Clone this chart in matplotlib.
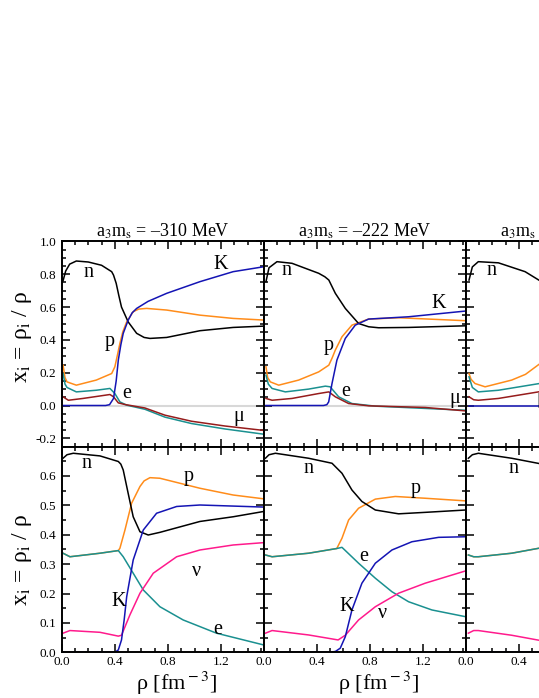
#!/usr/bin/env python3
# -*- coding: utf-8 -*-
"""
Particle fractions x_i = rho_i / rho vs density, three a3ms values
(top: neutrino-free, bottom: with trapped neutrinos)
"""

#%% 1. Imports
import matplotlib
matplotlib.use('Agg')
import matplotlib.pyplot as plt
from matplotlib.ticker import MultipleLocator, FixedLocator, FixedFormatter

plt.rcParams['font.family'] = ['Liberation Serif', 'DejaVu Serif']
plt.rcParams['mathtext.fontset'] = 'stix'
plt.rcParams['axes.unicode_minus'] = False

#%% 2. Data
titles = ['a$_{\\rm 3}$m$_{\\rm s}$ = \u2013310 MeV',
          'a$_{\\rm 3}$m$_{\\rm s}$ = \u2013222 MeV',
          'a$_{\\rm 3}$m$_{\\rm s}$ = \u2013134 MeV']

# ---- top row, column 1
n_t1_x = [0.01, 0.03, 0.06, 0.11, 0.2, 0.3, 0.376, 0.39, 0.41, 0.43, 0.45, 0.5, 0.564, 0.62, 0.664, 0.79, 1.04, 1.29, 1.52]
n_t1_y = [0.76, 0.82, 0.862, 0.881, 0.875, 0.855, 0.816, 0.795, 0.745, 0.67, 0.60, 0.51, 0.44, 0.415, 0.409, 0.415, 0.456, 0.476, 0.484]
K_t1_x = [0.01, 0.33, 0.36, 0.39, 0.41, 0.426, 0.445, 0.463, 0.50, 0.53, 0.564, 0.65, 0.79, 1.04, 1.29, 1.52]
K_t1_y = [0.0, 0.0, 0.005, 0.043, 0.15, 0.277, 0.37, 0.44, 0.52, 0.565, 0.592, 0.635, 0.684, 0.755, 0.816, 0.846]
p_t1_x = [0.01, 0.025, 0.04, 0.11, 0.26, 0.376, 0.40, 0.42, 0.438, 0.46, 0.489, 0.538, 0.58, 0.639, 0.79, 1.04, 1.29, 1.52]
p_t1_y = [0.246, 0.17, 0.144, 0.124, 0.155, 0.195, 0.236, 0.31, 0.379, 0.45, 0.51, 0.572, 0.588, 0.592, 0.582, 0.551, 0.531, 0.521]
e_t1_x = [0.01, 0.025, 0.04, 0.11, 0.26, 0.363, 0.40, 0.438, 0.489, 0.626, 0.777, 0.977, 1.228, 1.52]
e_t1_y = [0.195, 0.13, 0.11, 0.083, 0.093, 0.104, 0.073, 0.022, 0.002, -0.023, -0.071, -0.11, -0.143, -0.175]
mu_t1_x = [0.01, 0.05, 0.16, 0.363, 0.39, 0.426, 0.476, 0.626, 0.777, 0.977, 1.228, 1.52]
mu_t1_y = [0.053, 0.032, 0.043, 0.067, 0.053, 0.016, 0.006, -0.015, -0.059, -0.096, -0.125, -0.152]

# ---- top row, column 2
n_t2_x = [0.017, 0.04, 0.1, 0.213, 0.414, 0.46, 0.49, 0.539, 0.614, 0.714, 0.79, 0.865, 1.09, 1.52]
n_t2_y = [0.755, 0.84, 0.877, 0.867, 0.806, 0.785, 0.765, 0.684, 0.592, 0.50, 0.48, 0.474, 0.476, 0.486]
K_t2_x = [0.017, 0.45, 0.475, 0.489, 0.514, 0.551, 0.614, 0.689, 0.789, 1.09, 1.52]
K_t2_y = [0.0, 0.0, 0.005, 0.022, 0.134, 0.277, 0.409, 0.49, 0.527, 0.541, 0.576]
p_t2_x = [0.017, 0.03, 0.05, 0.113, 0.263, 0.414, 0.49, 0.515, 0.539, 0.589, 0.664, 0.789, 1.015, 1.52]
p_t2_y = [0.236, 0.17, 0.144, 0.124, 0.155, 0.205, 0.246, 0.29, 0.338, 0.419, 0.49, 0.527, 0.535, 0.517]
e_t2_x = [0.017, 0.035, 0.063, 0.163, 0.338, 0.464, 0.5, 0.564, 0.664, 0.84, 1.52]
e_t2_y = [0.185, 0.13, 0.104, 0.083, 0.10, 0.118, 0.114, 0.053, 0.012, -0.004, -0.029]
mu_t2_x = [0.017, 0.063, 0.213, 0.414, 0.49, 0.539, 0.639, 0.79, 1.215, 1.52]
mu_t2_y = [0.043, 0.032, 0.043, 0.073, 0.083, 0.053, 0.012, -0.002, -0.012, -0.033]

# ---- top row, column 3 (only the start is visible)
n_t3_x = [0.025, 0.05, 0.095, 0.246, 0.447, 0.6]
n_t3_y = [0.765, 0.845, 0.877, 0.87, 0.816, 0.74]
K_t3_x = [0.025, 0.6]
K_t3_y = [0.0, 0.0]
p_t3_x = [0.025, 0.04, 0.07, 0.146, 0.346, 0.45, 0.6]
p_t3_y = [0.195, 0.16, 0.134, 0.114, 0.155, 0.19, 0.28]
e_t3_x = [0.025, 0.05, 0.095, 0.246, 0.6]
e_t3_y = [0.175, 0.11, 0.083, 0.093, 0.14]
mu_t3_x = [0.025, 0.06, 0.095, 0.246, 0.6]
mu_t3_y = [0.053, 0.035, 0.032, 0.043, 0.09]

# ---- bottom row, column 1
n_b1_x = [0.01, 0.04, 0.087, 0.288, 0.426, 0.445, 0.463, 0.50, 0.538, 0.589, 0.651, 0.739, 1.04, 1.29, 1.52]
n_b1_y = [0.66, 0.672, 0.677, 0.668, 0.649, 0.64, 0.62, 0.541, 0.461, 0.41, 0.399, 0.408, 0.445, 0.461, 0.479]
K_b1_x = [0.01, 0.40, 0.426, 0.45, 0.47, 0.489, 0.538, 0.614, 0.714, 0.865, 1.04, 1.52]
K_b1_y = [0.0, 0.0, 0.008, 0.042, 0.11, 0.189, 0.314, 0.416, 0.473, 0.496, 0.501, 0.494]
p_b1_x = [0.01, 0.062, 0.288, 0.426, 0.438, 0.476, 0.526, 0.589, 0.62, 0.664, 0.739, 1.04, 1.29, 1.52]
p_b1_y = [0.337, 0.325, 0.337, 0.346, 0.354, 0.416, 0.507, 0.564, 0.583, 0.594, 0.592, 0.558, 0.535, 0.522]
e_b1_x = [0.01, 0.062, 0.288, 0.426, 0.463, 0.538, 0.614, 0.739, 0.914, 1.165, 1.52]
e_b1_y = [0.337, 0.325, 0.337, 0.346, 0.325, 0.269, 0.212, 0.155, 0.11, 0.065, 0.025]
nu_b1_x = [0.01, 0.062, 0.288, 0.426, 0.45, 0.513, 0.589, 0.689, 0.865, 1.04, 1.29, 1.52]
nu_b1_y = [0.065, 0.074, 0.068, 0.055, 0.058, 0.127, 0.201, 0.269, 0.325, 0.348, 0.365, 0.373]

# ---- bottom row, column 2
n_b2_x = [0.013, 0.04, 0.088, 0.338, 0.514, 0.589, 0.664, 0.739, 0.84, 1.015, 1.215, 1.52]
n_b2_y = [0.66, 0.672, 0.677, 0.66, 0.643, 0.609, 0.552, 0.513, 0.484, 0.471, 0.476, 0.484]
K_b2_x = [0.013, 0.50, 0.54, 0.576, 0.614, 0.664, 0.739, 0.84, 0.965, 1.115, 1.316, 1.52]
K_b2_y = [0.0, 0.0, 0.003, 0.014, 0.053, 0.144, 0.235, 0.303, 0.348, 0.376, 0.391, 0.393]
p_b2_x = [0.013, 0.063, 0.338, 0.55, 0.589, 0.639, 0.714, 0.84, 0.99, 1.215, 1.52]
p_b2_y = [0.331, 0.325, 0.337, 0.353, 0.388, 0.45, 0.49, 0.521, 0.53, 0.524, 0.515]
e_b2_x = [0.013, 0.063, 0.338, 0.55, 0.589, 0.714, 0.84, 0.965, 1.09, 1.266, 1.52]
e_b2_y = [0.331, 0.325, 0.337, 0.353, 0.357, 0.303, 0.252, 0.206, 0.172, 0.144, 0.121]
nu_b2_x = [0.013, 0.063, 0.338, 0.56, 0.614, 0.714, 0.84, 1.015, 1.215, 1.52]
nu_b2_y = [0.065, 0.074, 0.059, 0.042, 0.058, 0.11, 0.155, 0.201, 0.235, 0.277]

# ---- bottom row, column 3
n_b3_x = [0.02, 0.05, 0.095, 0.346, 0.6]
n_b3_y = [0.66, 0.672, 0.677, 0.66, 0.638]
K_b3_x = [0.02, 0.6]
K_b3_y = [0.0, 0.0]
p_b3_x = [0.02, 0.06, 0.095, 0.346, 0.6]
p_b3_y = [0.331, 0.325, 0.325, 0.337, 0.358]
e_b3_x = [0.02, 0.06, 0.095, 0.346, 0.6]
e_b3_y = [0.331, 0.325, 0.325, 0.337, 0.358]
nu_b3_x = [0.02, 0.06, 0.095, 0.346, 0.6]
nu_b3_y = [0.065, 0.074, 0.074, 0.058, 0.037]

# curve labels (text, x, y) per panel
lab_t1 = [('n', 0.2, 0.81), ('K', 1.2, 0.857), ('p', 0.36, 0.39), ('e', 0.49, 0.073), ('\u03bc', 1.33, -0.07)]
lab_t2 = [('n', 0.175, 0.826), ('K', 1.316, 0.623), ('p', 0.489, 0.368), ('e', 0.614, 0.083), ('\u03bc', 1.44, 0.043)]
lab_t3 = [('n', 0.195, 0.822), ('\u03bc', 0.57, 0.04)]
lab_b1 = [('n', 0.188, 0.643), ('p', 0.952, 0.598), ('\u03bd', 1.015, 0.274), ('K', 0.426, 0.172), ('e', 1.178, 0.076)]
lab_b2 = [('n', 0.338, 0.626), ('p', 1.14, 0.558), ('e', 0.752, 0.325), ('K', 0.627, 0.155), ('\u03bd', 0.893, 0.133)]
lab_b3 = [('n', 0.358, 0.626)]

#%% 3. Colours
C_N = 'black'
C_K = '#1414b4'
C_P = '#ff8c1a'
C_E = '#1a9090'
C_MU = '#961c1c'
C_NU = '#ff1a8c'

#%% 4. Layout (in pixels of the 539x698 canvas)
W, H = 539, 698
fig = plt.figure(figsize=(W / 100, H / 100), dpi=100)

x0 = 61.7        # left edge of first panel
pw = 202.0       # panel width
y_top = 241.5    # top of upper row
y_mid = 446.5    # row boundary
y_bot = 652.3    # bottom of lower row


def style_axes(ax, top_row, first_col):
    ax.set_xlim(0, 1.52)
    ax.xaxis.set_major_locator(FixedLocator([0.0, 0.4, 0.8, 1.2]))
    ax.xaxis.set_minor_locator(MultipleLocator(0.1))
    if top_row:
        ax.set_ylim(-0.25, 1.0)
        ax.yaxis.set_major_locator(MultipleLocator(0.2))
        ax.yaxis.set_minor_locator(MultipleLocator(0.05))
        ax.set_xticklabels([])
    else:
        ax.set_ylim(0, 0.70)
        ax.yaxis.set_major_locator(FixedLocator([0.0, 0.1, 0.2, 0.3, 0.4, 0.5, 0.6]))
        ax.yaxis.set_minor_locator(MultipleLocator(0.05))
        ax.xaxis.set_major_formatter(FixedFormatter(['0.0', '0.4', '0.8', '1.2']))
    if first_col:
        ticks = ax.get_yticks()
        ax.yaxis.set_major_formatter(FixedFormatter(['%.1f' % t for t in ticks]))
    else:
        ax.set_yticklabels([])
    ax.tick_params(which='both', direction='in', top=True, right=True, width=1.1,
                   labelsize=9.5)
    ax.tick_params(axis='y', pad=4)
    ax.tick_params(axis='x', pad=3)
    ax.tick_params(which='major', length=5.5)
    ax.tick_params(which='minor', length=3.2)
    for s in ax.spines.values():
        s.set_linewidth(1.4)


def add_labels(ax, labels):
    for txt, lx, ly in labels:
        ax.text(lx, ly, txt, fontsize=14.5, ha='center', va='center')


top_data = [
    (n_t1_x, n_t1_y, K_t1_x, K_t1_y, p_t1_x, p_t1_y, e_t1_x, e_t1_y, mu_t1_x, mu_t1_y, lab_t1),
    (n_t2_x, n_t2_y, K_t2_x, K_t2_y, p_t2_x, p_t2_y, e_t2_x, e_t2_y, mu_t2_x, mu_t2_y, lab_t2),
    (n_t3_x, n_t3_y, K_t3_x, K_t3_y, p_t3_x, p_t3_y, e_t3_x, e_t3_y, mu_t3_x, mu_t3_y, lab_t3),
]
bot_data = [
    (n_b1_x, n_b1_y, K_b1_x, K_b1_y, p_b1_x, p_b1_y, e_b1_x, e_b1_y, nu_b1_x, nu_b1_y, lab_b1),
    (n_b2_x, n_b2_y, K_b2_x, K_b2_y, p_b2_x, p_b2_y, e_b2_x, e_b2_y, nu_b2_x, nu_b2_y, lab_b2),
    (n_b3_x, n_b3_y, K_b3_x, K_b3_y, p_b3_x, p_b3_y, e_b3_x, e_b3_y, nu_b3_x, nu_b3_y, lab_b3),
]

lw = 1.1
for j in range(3):
    left = (x0 + j * pw) / W
    # upper panel
    ax = fig.add_axes([left, (H - y_mid) / H, pw / W, (y_mid - y_top) / H])
    nx, ny, kx, ky, px, py, ex, ey, mx, my, labs = top_data[j]
    ax.axhline(0, color='#d8d8d8', lw=1.5, zorder=0)
    ax.plot(px, py, color=C_P, lw=lw)
    ax.plot(ex, ey, color=C_E, lw=lw)
    ax.plot(mx, my, color=C_MU, lw=lw)
    ax.plot(nx, ny, color=C_N, lw=lw)
    ax.plot(kx, ky, color=C_K, lw=lw)
    add_labels(ax, labs)
    style_axes(ax, True, j == 0)

    # lower panel
    ax = fig.add_axes([left, (H - y_bot) / H, pw / W, (y_bot - y_mid) / H])
    nx, ny, kx, ky, px, py, ex, ey, vx, vy, labs = bot_data[j]
    ax.plot(px, py, color=C_P, lw=lw)
    ax.plot(ex, ey, color=C_E, lw=lw)
    ax.plot(vx, vy, color=C_NU, lw=lw)
    ax.plot(nx, ny, color=C_N, lw=lw)
    ax.plot(kx, ky, color=C_K, lw=lw)
    add_labels(ax, labs)
    style_axes(ax, False, j == 0)

    # titles and x labels
    cx = (x0 + j * pw + pw / 2) / W
    fig.text(cx, (H - 231) / H, titles[j], ha='center', va='center', fontsize=13)
    fig.text(cx + 14 / W, (H - 683) / H, '\u03c1 [fm$^{\\rm -3}$]', ha='center', va='center', fontsize=16)

# y labels
ylab = 'x$_{\\rm  i}$ = \u03c1$_{\\rm i}$ / \u03c1'
fig.text(22 / W, (H - 337) / H, ylab, rotation=90, ha='center', va='center', fontsize=17)
fig.text(22 / W, (H - 560) / H, ylab, rotation=90, ha='center', va='center', fontsize=17)

fig.savefig('out.png', dpi=100)
